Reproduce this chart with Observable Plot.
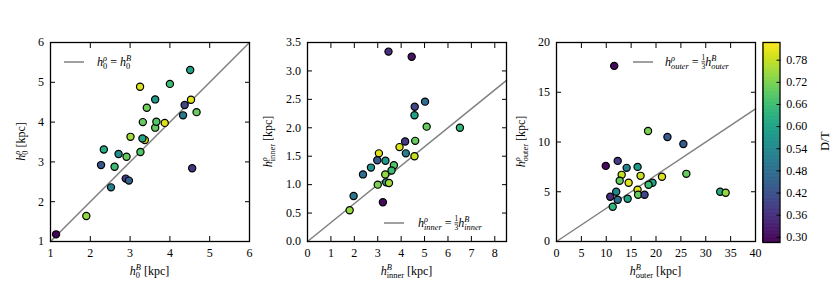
<!DOCTYPE html>
<html><head><meta charset="utf-8">
<script src="https://cdn.jsdelivr.net/npm/d3@7"></script>
<script src="https://cdn.jsdelivr.net/npm/@observablehq/plot@0.6"></script>
<style>
body{margin:0;background:#fff;}
#wrap{position:relative;width:830px;height:291px;overflow:hidden;background:#fff;}
#wrap svg{position:absolute;top:0;overflow:visible;}
</style></head><body><div id="wrap"></div>
<script>
const FONT = "Liberation Serif";

const p1X  = [1.14,1.90,2.52,2.27,2.34,2.61,2.71,2.91,2.89,2.97,3.26,3.01,3.25,3.37,3.31,3.32,3.42,3.63,3.63,3.66,3.87,4.00,4.33,4.37,4.51,4.53,4.67,4.56];
const p1Y  = [1.18,1.64,2.36,2.92,3.31,2.88,3.20,3.13,2.58,2.53,3.25,3.63,4.89,3.55,3.59,4.00,4.36,4.57,3.86,4.01,3.98,4.96,4.17,4.43,5.31,4.56,4.25,2.84];
const p1DT = [0.29,0.74,0.52,0.43,0.62,0.66,0.55,0.70,0.38,0.45,0.68,0.75,0.80,0.80,0.60,0.70,0.71,0.58,0.70,0.68,0.80,0.66,0.50,0.40,0.60,0.80,0.70,0.37];

const p2X  = [3.46,4.45,5.02,4.58,4.57,5.09,6.51,4.60,4.17,3.93,4.20,4.57,3.05,2.98,3.33,3.69,3.59,2.71,2.37,3.32,3.00,3.36,3.48,1.97,3.22,1.80];
const p2Y  = [3.34,3.25,2.46,2.37,2.22,2.02,2.00,1.77,1.76,1.66,1.55,1.50,1.55,1.43,1.42,1.34,1.25,1.30,1.18,1.18,1.00,1.04,1.03,0.80,0.69,0.55];
const p2DT = [0.36,0.31,0.48,0.40,0.60,0.70,0.64,0.70,0.38,0.80,0.52,0.78,0.80,0.44,0.58,0.68,0.66,0.56,0.48,0.74,0.72,0.60,0.75,0.50,0.30,0.74];

const p3X  = [11.6,18.4,22.3,25.5,9.9,12.3,14.1,16.3,13.1,16.9,12.7,14.5,21.2,26.1,19.3,18.5,16.3,16.4,17.7,12.0,10.8,12.3,14.3,11.3,32.9,34.0];
const p3Y  = [17.65,11.1,10.5,9.8,7.6,8.1,7.4,7.5,6.7,6.6,6.1,5.9,6.5,6.8,5.9,5.7,5.2,4.7,4.7,5.0,4.5,4.2,4.3,3.5,5.0,4.9];
const p3DT = [0.30,0.72,0.44,0.44,0.30,0.38,0.52,0.58,0.78,0.78,0.70,0.80,0.80,0.70,0.60,0.66,0.80,0.70,0.40,0.54,0.36,0.48,0.60,0.64,0.62,0.74];

const p1XTicks = [1,2,3,4,5,6], p1YTicks = [1,2,3,4,5,6];
const p2XTicks = [0,1,2,3,4,5,6,7,8], p2YTicks = [0,0.5,1,1.5,2,2.5,3,3.5];
const p3XTicks = [0,5,10,15,20,25,30,35,40], p3YTicks = [0,5,10,15,20];
const cbTicks = [0.30,0.36,0.42,0.48,0.54,0.60,0.66,0.72,0.78];
const DT_DOMAIN = [0.286, 0.828];

const ref1X = [1, 6], ref1Slope = 1;
const ref2X = [0, 8.5], ref2Slope = 1/3;
const ref3X = [0, 40], ref3Slope = 1/3;

const wrap = document.getElementById("wrap");

function mathText(svg, tokens, {x, y, anchor = "middle", rotate = 0, size = 12}) {
  const t = d3.select(svg).append("text")
    .attr("transform", `translate(${x},${y})` + (rotate ? ` rotate(${rotate})` : ""))
    .attr("text-anchor", anchor).attr("font-family", FONT).attr("font-size", size)
    .attr("fill", "black").style("white-space", "pre");
  let cur = 0, pend = 0;
  for (const k of tokens) {
    if (typeof k === "string" || k.t != null) {
      const s = typeof k === "string" ? k : k.t;
      const sp = t.append("tspan").attr("dy", -cur).attr("dx", pend).text(s);
      if (k.i) sp.attr("font-style", "italic");
      cur = 0; pend = 0;
    } else {
      const frac = !!k.frac;
      const ss = size * (frac ? 0.62 : 0.7);
      const up = size * (frac ? 0.42 : 0.38), down = size * (frac ? 0.28 : 0.26);
      const a = t.append("tspan").attr("font-size", ss).attr("dx", pend).attr("dy", -up - cur).text(k.sup);
      if (k.supI) a.attr("font-style", "italic");
      if (frac) a.style("text-decoration", "underline");
      const wSup = a.node().getComputedTextLength();
      cur = -up;
      const b = t.append("tspan").attr("font-size", ss).attr("dx", -wSup).attr("dy", down - cur).text(k.sub);
      if (k.subI) b.attr("font-style", "italic");
      const wSub = b.node().getComputedTextLength();
      cur = down;
      pend = Math.max(0, wSup - wSub);
    }
  }
  return t;
}

function panel({left, X, Y, DT, xDomain, yDomain, xTicks, yTicks, xFmt, yFmt, refX, slope}) {
  const pts = X.map((x, i) => ({x, y: Y[i], dt: DT[i]}));
  const ref = refX.map(x => ({x, y: x * slope}));
  const blank = () => "";
  const svg = Plot.plot({
    width: 270, height: 291,
    marginLeft: 50, marginRight: 21, marginTop: 42, marginBottom: 50,
    style: {fontFamily: FONT, fontSize: "12px", background: "transparent", color: "black", overflow: "visible"},
    x: {domain: xDomain},
    y: {domain: yDomain},
    color: {type: "linear", scheme: "viridis", domain: DT_DOMAIN},
    marks: [
      Plot.line(ref, {x: "x", y: "y", stroke: "#808080", strokeWidth: 1.5}),
      Plot.dot(pts, {x: "x", y: "y", fill: "dt", r: 3.6, stroke: "black", strokeWidth: 1.2}),
      Plot.axisX(xTicks, {anchor: "bottom", tickSize: 0, tickPadding: 7, tickFormat: xFmt, label: null, fontFamily: FONT, fontSize: 12}),
      Plot.axisX(xTicks, {anchor: "bottom", tickSize: -5, tickFormat: blank, label: null}),
      Plot.axisX(xTicks, {anchor: "top", tickSize: -5, tickFormat: blank, label: null}),
      Plot.axisY(yTicks, {anchor: "left", tickSize: 0, tickPadding: 6.5, tickFormat: yFmt, label: null, fontFamily: FONT, fontSize: 12}),
      Plot.axisY(yTicks, {anchor: "left", tickSize: -5, tickFormat: blank, label: null}),
      Plot.axisY(yTicks, {anchor: "right", tickSize: -5, tickFormat: blank, label: null}),
      Plot.frame({stroke: "black", strokeWidth: 1.3})
    ]
  });
  svg.style.left = left + "px";
  wrap.appendChild(svg);
  return svg;
}

const fInt = d3.format("d");
const s1 = panel({left: 0, X: p1X, Y: p1Y, DT: p1DT, xDomain: [1, 6], yDomain: [1, 6], xTicks: p1XTicks, yTicks: p1YTicks, xFmt: fInt, yFmt: fInt, refX: ref1X, slope: ref1Slope});
const s2 = panel({left: 257, X: p2X, Y: p2Y, DT: p2DT, xDomain: [0, 8.5], yDomain: [0, 3.5], xTicks: p2XTicks, yTicks: p2YTicks, xFmt: fInt, yFmt: d3.format(".1f"), refX: ref2X, slope: ref2Slope});
const s3 = panel({left: 506, X: p3X, Y: p3Y, DT: p3DT, xDomain: [0, 40], yDomain: [0, 20], xTicks: p3XTicks, yTicks: p3YTicks, xFmt: fInt, yFmt: fInt, refX: ref3X, slope: ref3Slope});

const cx = 50 + (270 - 50 - 21) / 2, cy = 42 + (291 - 42 - 50) / 2;
mathText(s1, [{t: "h", i: true}, {sub: "0", sup: "B", supI: true}, " [kpc]"], {x: cx, y: 274.5});
mathText(s1, [{t: "h", i: true}, {sub: "0", sup: "ρ", supI: true}, " [kpc]"], {x: 24.5, y: cy, rotate: -90});
mathText(s2, [{t: "h", i: true}, {sub: "inner", sup: "B", supI: true}, " [kpc]"], {x: cx, y: 274.5});
mathText(s2, [{t: "h", i: true}, {sub: "inner", sup: "ρ", supI: true}, " [kpc]"], {x: 14.5, y: cy, rotate: -90});
mathText(s3, [{t: "h", i: true}, {sub: "outer", sup: "B", supI: true}, " [kpc]"], {x: cx, y: 274.5});
mathText(s3, [{t: "h", i: true}, {sub: "outer", sup: "ρ", supI: true}, " [kpc]"], {x: 18.5, y: cy, rotate: -90});

function legendLine(svg, x, y) {
  d3.select(svg).append("line").attr("x1", x).attr("x2", x + 20).attr("y1", y).attr("y2", y)
    .attr("stroke", "#808080").attr("stroke-width", 1.5);
}
legendLine(s1, 64, 62);
mathText(s1, [{t: "h", i: true}, {sub: "0", sup: "ρ", supI: true}, " = ", {t: "h", i: true}, {sub: "0", sup: "B", supI: true}], {x: 97, y: 65.5, anchor: "start"});
legendLine(s2, 127, 223);
mathText(s2, [{t: "h", i: true}, {sub: "inner", subI: true, sup: "ρ", supI: true}, " = ", {frac: true, sup: "1", sub: "3"}, {t: "h", i: true}, {sub: "inner", subI: true, sup: "B", supI: true}], {x: 161, y: 226.5, anchor: "start"});
legendLine(s3, 127, 62);
mathText(s3, [{t: "h", i: true}, {sub: "outer", subI: true, sup: "ρ", supI: true}, " = ", {frac: true, sup: "1", sub: "3"}, {t: "h", i: true}, {sub: "outer", subI: true, sup: "B", supI: true}], {x: 159, y: 65.5, anchor: "start"});

const N = 256;
const steps = d3.range(N).map(i => ({
  y1: DT_DOMAIN[0] + (DT_DOMAIN[1] - DT_DOMAIN[0]) * i / N,
  y2: DT_DOMAIN[0] + (DT_DOMAIN[1] - DT_DOMAIN[0]) * (i + 1) / N
}));
const cb = Plot.plot({
  width: 75, height: 291,
  marginLeft: 7.5, marginRight: 50.5, marginTop: 42, marginBottom: 49,
  style: {fontFamily: FONT, fontSize: "12px", background: "transparent", color: "black", overflow: "visible"},
  x: {domain: [0, 1], axis: null},
  y: {domain: DT_DOMAIN},
  color: {type: "linear", scheme: "viridis", domain: DT_DOMAIN},
  marks: [
    Plot.rect(steps, {x1: 0, x2: 1, y1: "y1", y2: "y2", fill: d => (d.y1 + d.y2) / 2, stroke: d => (d.y1 + d.y2) / 2, strokeWidth: 0.6}),
    Plot.axisY(cbTicks, {anchor: "right", tickSize: 0, tickPadding: 6.2, tickFormat: d3.format(".2f"), label: null, fontFamily: FONT, fontSize: 12}),
    Plot.axisY(cbTicks, {anchor: "right", tickSize: -4, tickFormat: () => "", label: null}),
    Plot.frame({stroke: "black", strokeWidth: 1.3})
  ]
});
cb.style.left = "755px";
wrap.appendChild(cb);
mathText(cb, ["D/T"], {x: 73.5, y: 141, rotate: -90});
</script></body></html>
